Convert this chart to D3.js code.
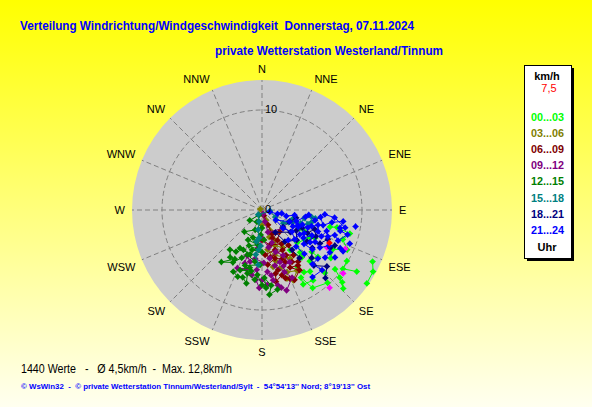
<!DOCTYPE html>
<html>
<head>
<meta charset="utf-8">
<script src="https://cdn.jsdelivr.net/npm/d3@7"></script>
<style>
html, body { margin: 0; padding: 0; }
body { width: 592px; height: 407px; overflow: hidden; }
text { font-family: "Liberation Sans", Arial, sans-serif; }
</style>
</head>
<body>
<div id="chart"></div>
<script>
// --- Daten: Windrichtung (Grad) / Windgeschwindigkeit (km/h) ---
const directions = ["N", "NNE", "NE", "ENE", "E", "ESE", "SE", "SSE", "S", "SSW", "SW", "WSW", "W", "WNW", "NW", "NNW"];
const ringValues = [0, 10];
const maxSpeed = 13;
const legendLabels = ["00...03", "03...06", "06...09", "09...12", "12...15", "15...18", "18...21", "21...24"];
const currentValue = [116, 7.5]; // aktueller Wert (rot)

const s0003 = [[116,4.2],[117,4.8],[118,6.0],[120,5.5],[125,5.2],[133,4.8],[138,5.7],[140,6.2],[145,4.9],[148,6.7],[146,7.5],[142,7.8],[144,8.7],[151,8.5],[150,7.8],[147,9.3],[138,9.8],[135,8.9],[137,7.0],[130,7.3],[130,6.5],[125,8.4],[119,8.1],[115,9.4],[110,8.6],[105,9.1],[103,7.7],[104,7.0],[121,9.9],[126,10.0],[123,11.3],[115,12.2],[119,12.7],[125,12.8],[132,10.8],[134,11.3],[131,10.3],[129,9.4]];
const sExtra = [[115,9.2],[128,10.3],[139,10.3],[120,7.5]];
const s0306 = [[297,0.2],[158,1.1],[158,2.2],[165,2.8],[157,3.3],[160,3.8],[151,4.3],[154,5.2],[150,5.6],[164,4.7],[172,4.0],[165,5.3],[169,5.8],[163,6.1],[158,6.7],[150,7.0],[156,7.7],[160,7.3],[180,1.5]];
const s0609 = [[162,0.6],[158,1.6],[157,2.6],[160,3.0],[141,2.8],[153,3.4],[150,3.9],[167,3.6],[180,3.0],[162,4.2],[176,4.5],[170,4.8],[153,4.5],[143,4.4],[145,5.5],[152,5.1],[158,5.3],[165,5.0],[174,5.5],[156,5.7],[150,6.0],[145,6.3],[147,6.6],[154,6.4],[148,7.1],[155,7.7],[158,7.4],[161,7.2],[163,6.8],[169,7.3],[168,6.5],[165,6.2]];
const s0912 = [[166,0.4],[166,1.2],[165,2.3],[131,2.8],[163,3.4],[170,3.8],[180,2.8],[186,3.8],[188,4.9],[178,5.3],[193,5.3],[198,4.8],[198,5.6],[195,6.1],[203,6.3],[189,6.6],[185,6.0],[185,7.0],[182,7.8],[176,7.5],[180,7.0],[175,6.2],[172,6.6],[171,4.9],[162,4.4],[155,5.0],[152,5.9],[159,6.0],[161,5.5],[167,5.7],[160,6.6],[156,7.4],[163,8.4],[166,8.0],[168,7.7],[171,7.1]];
const s1215 = [[211,0.6],[230,1.6],[203,1.3],[180,1.8],[183,2.5],[199,2.1],[219,2.8],[198,2.9],[190,3.2],[176,3.0],[205,3.3],[187,3.5],[200,3.8],[185,4.0],[194,4.1],[180,4.2],[205,4.4],[195,4.6],[210,4.4],[212,4.9],[219,5.1],[214,5.7],[209,5.6],[218,6.6],[209,6.0],[203,5.2],[198,4.7],[188,5.2],[182,5.5],[197,5.8],[190,6.2],[200,6.4],[192,5.9],[205,6.8],[200,7.1],[196,7.0],[192,7.5],[193,6.5],[186,7.0],[184,6.5],[180,7.5],[177,7.8],[178,6.8],[173,7.6],[175,8.5],[169,8.1]];
const s1518 = [[98,5.0],[99,5.4],[104,5.1],[107,4.8],[101,4.3],[109,4.1],[106,3.2],[111,3.3],[115,2.9],[122,2.5],[118,1.5],[97,0.8],[219,0.6],[194,1.2],[191,2.0],[186,2.8],[190,3.2],[182,3.6],[185,4.0],[188,4.5],[184,5.5]];
const s1821 = [[103,3.5],[113,3.0],[129,2.7],[128,3.6],[149,2.6],[144,3.9],[131,4.6],[121,4.0],[114,4.4],[117,5.1],[110,5.6],[116,6.0],[125,5.5],[120,6.7],[114,7.2],[119,7.8],[116,8.1],[127,6.3],[134,6.9],[143,5.0],[142,6.1],[137,7.6],[131,8.6],[137,9.3]];
const s2124 = [[104,0.8],[104,1.6],[100,2.0],[104,2.5],[99,3.3],[108,3.6],[99,4.4],[96,4.7],[101,5.4],[97,5.9],[104,6.3],[100,7.1],[98,8.2],[103,8.0],[105,8.1],[106,8.9],[112,8.2],[109,7.7],[112,7.1],[108,6.8],[114,6.5],[111,6.0],[105,5.8],[111,4.9],[110,4.3],[113,3.9],[115,4.0],[118,3.5],[113,3.0],[126,1.7],[131,2.8],[126,3.7],[132,4.4],[123,4.5],[119,4.8],[124,5.0],[117,5.6],[124,5.8],[121,6.2],[123,6.9],[118,7.6],[122,8.0],[127,7.9],[116,8.7],[117,9.1],[102,8.5],[96,7.3],[94,6.3],[108,5.2],[129,5.4],[128,6.4],[137,5.0],[136,6.1],[139,4.0],[131,7.4],[137,7.4],[135,8.5],[143,8.4],[123,8.7],[111,9.4],[100,9.5]];

const seriesData = [s0003, s0306, s0609, s0912, s1215, s1518, s1821, s2124];
const seriesColors = ["#00ff00", "#808000", "#800000", "#800080", "#008000", "#008080", "#000080", "#0000ff"];

// --- Aufbau ---
const width = 592, height = 407;
const cx = 262, cy = 210, R = 130;

const svg = d3.select("#chart").append("svg")
    .attr("width", width)
    .attr("height", height);

const defs = svg.append("defs");
const grad = defs.append("linearGradient").attr("id", "bg").attr("x1", 0).attr("y1", 0).attr("x2", 0).attr("y2", 1);
grad.append("stop").attr("offset", "0%").attr("stop-color", "#ffff00");
grad.append("stop").attr("offset", "100%").attr("stop-color", "#fffff0");

svg.append("rect").attr("width", width).attr("height", height).attr("fill", "url(#bg)");

// Skalen
const rScale = d3.scaleLinear().domain([0, maxSpeed]).range([0, R]);
const aScale = d3.scaleLinear().domain([0, 360]).range([0, 2 * Math.PI]);
const pos = d => d3.pointRadial(aScale(d[0]), rScale(d[1]));

const g = svg.append("g").attr("transform", `translate(${cx},${cy})`);

// Scheibe
g.append("circle").attr("r", R).attr("fill", "#cccccc");

// Gitter
g.selectAll(".spoke").data(directions).enter().append("line")
    .attr("x1", 0).attr("y1", 0)
    .attr("x2", (d, i) => d3.pointRadial(aScale(i * 22.5), R)[0])
    .attr("y2", (d, i) => d3.pointRadial(aScale(i * 22.5), R)[1])
    .attr("stroke", "#808080").attr("stroke-dasharray", "5,3");

g.selectAll(".ring").data(ringValues.filter(v => v > 0)).enter().append("circle")
    .attr("r", d => rScale(d))
    .attr("fill", "none")
    .attr("stroke", "#808080").attr("stroke-dasharray", "5,3");

// Messpunkte
const marker = "M0,-3.4L1.6,-1.6L3.4,0L1.6,1.6L0,3.4L-1.6,1.6L-3.4,0L-1.6,-1.6Z";

function drawSeries(data, color) {
    // nur kurze Verbindungen zwischen aufeinanderfolgenden Werten
    const segs = d3.pairs(data).map(([a, b]) => [pos(a), pos(b)])
        .filter(([p, q]) => Math.hypot(p[0] - q[0], p[1] - q[1]) < 16);
    g.append("g").selectAll("line").data(segs).enter().append("line")
        .attr("x1", d => d[0][0]).attr("y1", d => d[0][1])
        .attr("x2", d => d[1][0]).attr("y2", d => d[1][1])
        .attr("stroke", color)
        .attr("stroke-width", 1);
    g.append("g").selectAll("path").data(data).enter().append("path")
        .attr("d", marker)
        .attr("transform", d => `translate(${pos(d)[0]},${pos(d)[1]})`)
        .attr("fill", color);
}

seriesData.forEach((s, i) => {
    drawSeries(s, seriesColors[i]);
    if (i === 0) drawSeries(sExtra, "#ff00ff");
});
drawSeries([currentValue], "#ff0000");

// Ringbeschriftung
g.selectAll(".ringlabel").data(ringValues).enter().append("text")
    .attr("x", 3)
    .attr("y", d => -rScale(d) + 3)
    .attr("font-size", 11)
    .text(d => d);

// Himmelsrichtungen
const labelR = 137;
g.selectAll(".dir").data(directions).enter().append("text")
    .attr("font-size", 11)
    .attr("fill", "#000")
    .each(function (d, i) {
        const [x, y] = d3.pointRadial(aScale(i * 22.5), labelR);
        const t = d3.select(this);
        const s = Math.round(Math.sin(aScale(i * 22.5)) * 100) / 100;
        const c = Math.round(Math.cos(aScale(i * 22.5)) * 100) / 100;
        t.attr("x", x)
         .attr("text-anchor", s > 0 ? "start" : (s < 0 ? "end" : "middle"))
         .attr("y", c > 0 ? y : (c < 0 ? y + 8.5 : y + 4));
    })
    .text(d => d);

// Titel
svg.append("text").attr("x", 20).attr("y", 30)
    .attr("font-size", 12).attr("font-weight", "bold").attr("fill", "#0000ff")
    .attr("textLength", 394).attr("lengthAdjust", "spacingAndGlyphs")
    .style("white-space", "pre")
    .text("Verteilung Windrichtung/Windgeschwindigkeit  Donnerstag, 07.11.2024");

svg.append("text").attr("x", 215).attr("y", 55)
    .attr("font-size", 12).attr("font-weight", "bold").attr("fill", "#0000ff")
    .attr("textLength", 228).attr("lengthAdjust", "spacingAndGlyphs")
    .text("private Wetterstation Westerland/Tinnum");

// Legende
const lg = svg.append("g");
lg.append("rect").attr("x", 527).attr("y", 68).attr("width", 47).attr("height", 193).attr("fill", "#000");
lg.append("rect").attr("x", 524.5).attr("y", 65.5).attr("width", 47).attr("height", 193)
    .attr("fill", "#fff").attr("stroke", "#000");
lg.append("text").attr("x", 547).attr("y", 80).attr("text-anchor", "middle")
    .attr("font-size", 11).attr("font-weight", "bold").text("km/h");
lg.append("text").attr("x", 549).attr("y", 92).attr("text-anchor", "middle")
    .attr("font-size", 11).attr("fill", "#ff0000").text(String(currentValue[1]).replace(".", ","));

const legendY = d3.scaleLinear().domain([0, 1]).range([121, 137.1]);
lg.selectAll(".lab").data(legendLabels).enter().append("text")
    .attr("x", 531)
    .attr("y", (d, i) => legendY(i))
    .attr("font-size", 11).attr("font-weight", "bold")
    .attr("textLength", 33).attr("lengthAdjust", "spacingAndGlyphs")
    .attr("fill", (d, i) => seriesColors[i])
    .text(d => d);
lg.append("text").attr("x", 547).attr("y", 251).attr("text-anchor", "middle")
    .attr("font-size", 11).attr("font-weight", "bold").text("Uhr");

// Fusszeile
svg.append("text").attr("x", 21).attr("y", 373)
    .attr("font-size", 12).attr("fill", "#000")
    .attr("textLength", 211).attr("lengthAdjust", "spacingAndGlyphs")
    .style("white-space", "pre")
    .text("1440 Werte   -   Ø 4,5km/h  -  Max. 12,8km/h");

svg.append("text").attr("x", 21).attr("y", 389)
    .attr("font-size", 8).attr("font-weight", "bold").attr("fill", "#0000ff")
    .attr("textLength", 349).attr("lengthAdjust", "spacingAndGlyphs")
    .style("white-space", "pre")
    .text("© WsWin32  -  © private Wetterstation Tinnum/Westerland/Sylt  -  54°54'13'' Nord; 8°19'13'' Ost");
</script>
</body>
</html>
